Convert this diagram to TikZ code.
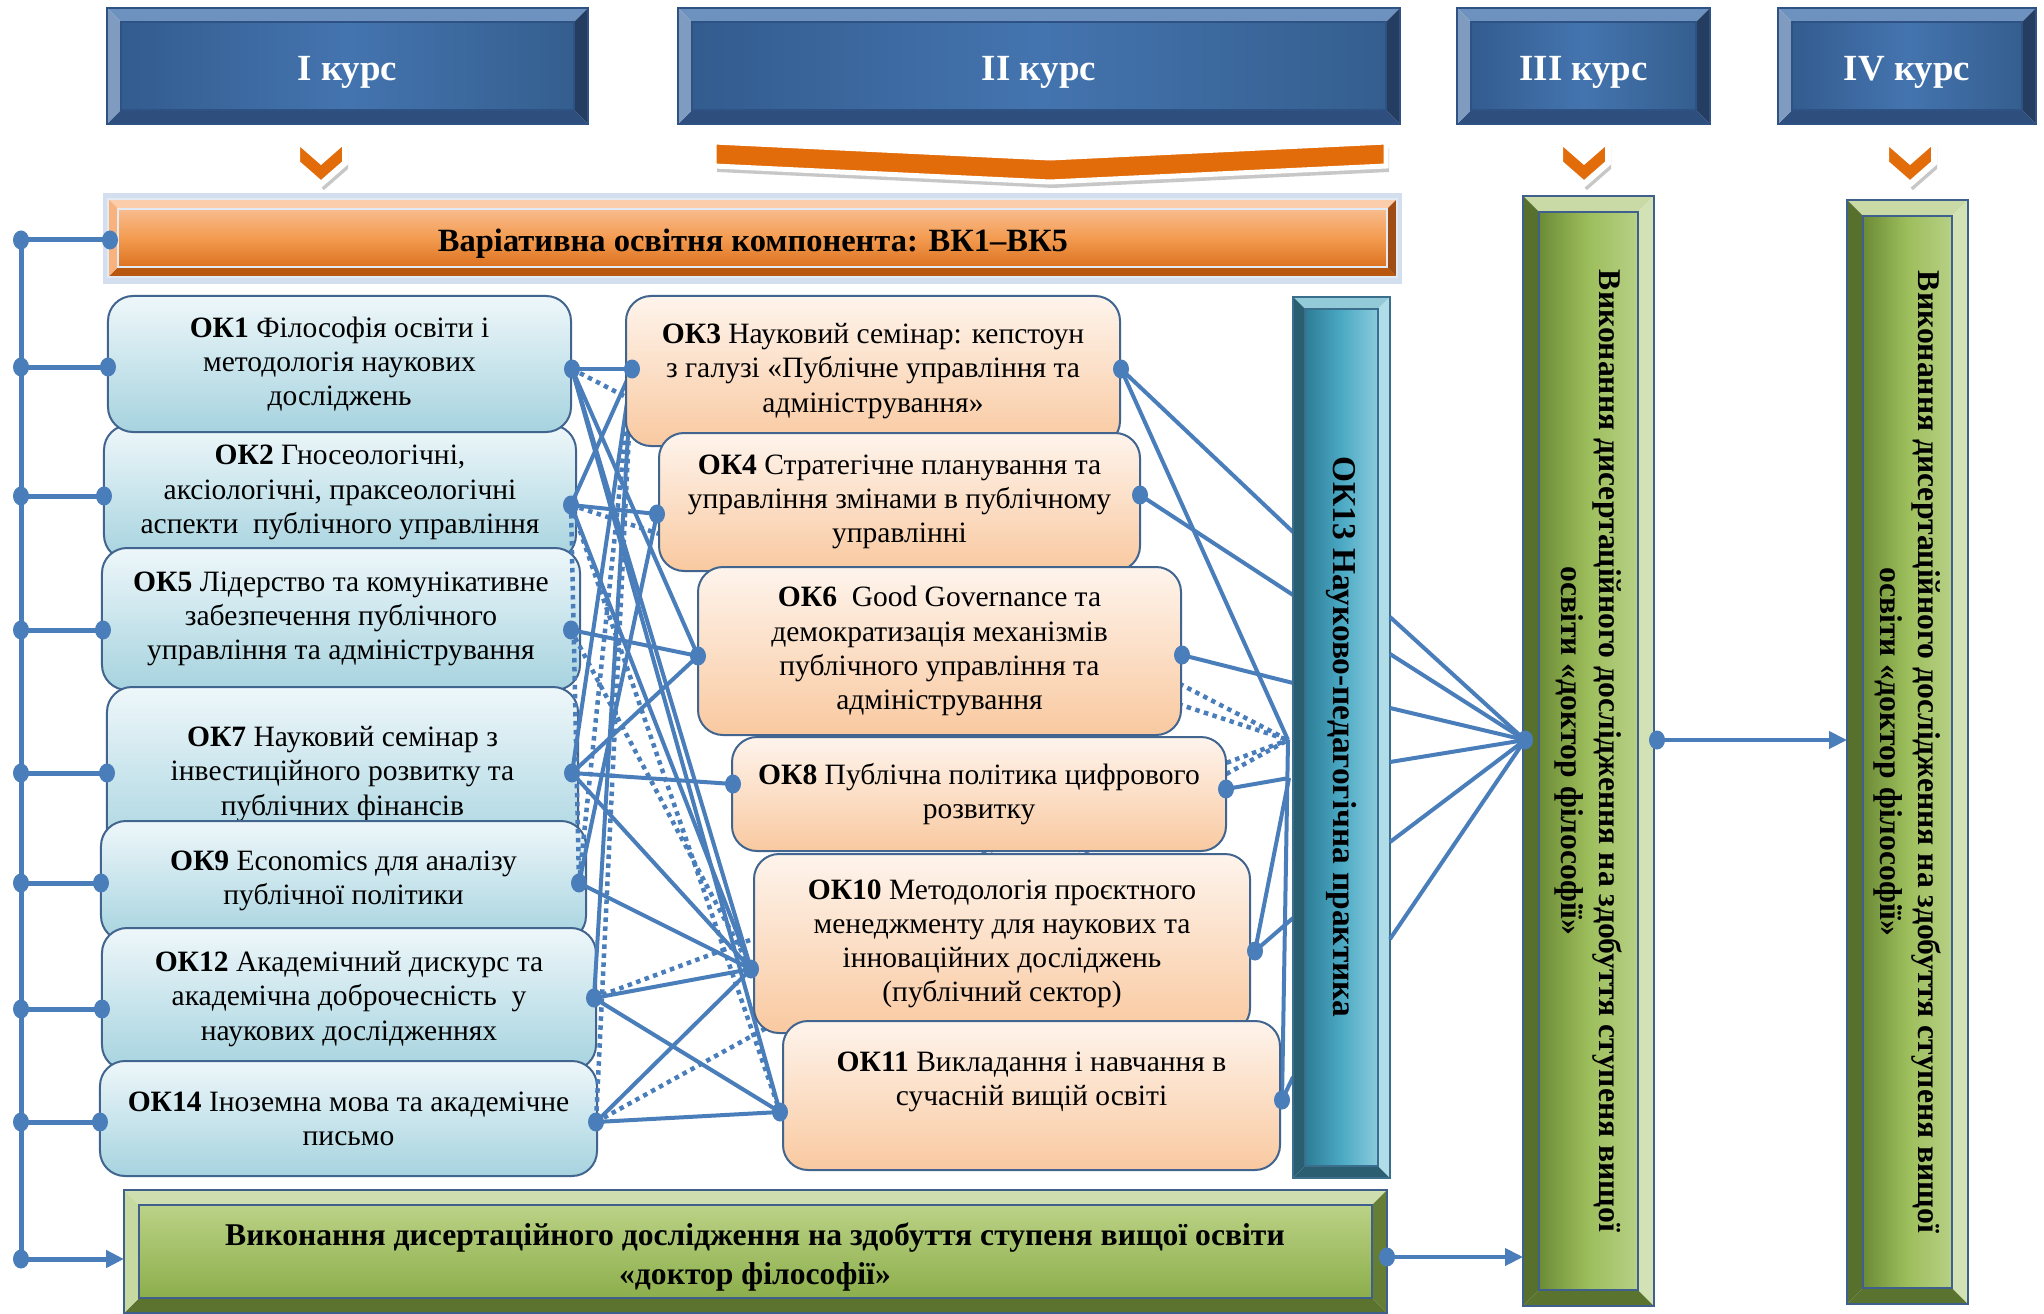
\documentclass[tikz,border=0pt]{standalone}
\usepackage{fontspec}
\setmainfont{Liberation Serif}
\usetikzlibrary{arrows.meta}

\definecolor{linkblue}{HTML}{4A7EBB}
\definecolor{boxline}{HTML}{41658F}
\definecolor{lbtop}{HTML}{EEF7FA}
\definecolor{lbbot}{HTML}{A6D3DF}
\definecolor{obtop}{HTML}{FEF4EC}
\definecolor{obbot}{HTML}{F9C9A0}
\definecolor{chev}{HTML}{E36C0A}
\definecolor{vkglow}{HTML}{D3DFEE}
% courses
\definecolor{hdtop}{HTML}{6E92BF}
\definecolor{hdbot}{HTML}{2E4F7E}
\definecolor{hdleft}{HTML}{7F9BBF}
\definecolor{hdright}{HTML}{243D60}
\definecolor{hdline}{HTML}{2D5283}
\definecolor{hdl}{HTML}{335C8F}
\definecolor{hdm}{HTML}{4474AF}
\definecolor{hdr}{HTML}{345E8E}
% variative component
\definecolor{vktop}{HTML}{FBCDAA}
\definecolor{vkbot}{HTML}{B8570F}
\definecolor{vkleft}{HTML}{F8B27D}
\definecolor{vkright}{HTML}{A04D15}
\definecolor{vkline}{HTML}{E2EAF4}
\definecolor{vkt}{HTML}{F9BC8E}
\definecolor{vkm}{HTML}{F39B50}
\definecolor{vkb}{HTML}{DC7220}
% practice bar
\definecolor{prtop}{HTML}{93CAD8}
\definecolor{prbot}{HTML}{2B5E70}
\definecolor{prleft}{HTML}{2A5F72}
\definecolor{prright}{HTML}{B1DDE8}
\definecolor{prline}{HTML}{3B6E8C}
\definecolor{prl}{HTML}{2D7C95}
\definecolor{prm}{HTML}{4BA9C4}
\definecolor{prr}{HTML}{8ACBDC}
% dissertation, vertical
\definecolor{gntop}{HTML}{C9DAA6}
\definecolor{gnbot}{HTML}{5A7430}
\definecolor{gnleft}{HTML}{57702D}
\definecolor{gnright}{HTML}{D2E2B4}
\definecolor{gnline}{HTML}{3F5F8C}
\definecolor{gnl}{HTML}{6C8B36}
\definecolor{gnm}{HTML}{9DBE5C}
\definecolor{gnr}{HTML}{B7D086}
% dissertation, horizontal
\definecolor{gbtop}{HTML}{CEDEAE}
\definecolor{gbbot}{HTML}{5B732F}
\definecolor{gbleft}{HTML}{C6D9A0}
\definecolor{gbright}{HTML}{667D36}
\definecolor{gbline}{HTML}{3F5F8C}
\definecolor{gbt}{HTML}{BBD286}
\definecolor{gbb}{HTML}{8CAE4B}

\def\bevel(#1,#2)(#3,#4)#5#6#7{%
	\fill[#6top] (#1,#2) -- (#3,#2) -- ({#3-#5},{#2+#5}) -- ({#1+#5},{#2+#5}) -- cycle;
	\fill[#6bot] (#1,#4) -- (#3,#4) -- ({#3-#5},{#4-#5}) -- ({#1+#5},{#4-#5}) -- cycle;
	\fill[#6left] (#1,#2) -- ({#1+#5},{#2+#5}) -- ({#1+#5},{#4-#5}) -- (#1,#4) -- cycle;
	\fill[#6right] (#3,#2) -- ({#3-#5},{#2+#5}) -- ({#3-#5},{#4-#5}) -- (#3,#4) -- cycle;
	\shade[#7] ({#1+#5},{#2+#5}) rectangle ({#3-#5},{#4-#5});
	\draw[#6line, line width=0.3mm] ({#1+#5},{#2+#5}) rectangle ({#3-#5},{#4-#5});
	\draw[#6line, line width=0.5mm] (#1,#2) rectangle (#3,#4);
}
\def\chevron(#1){%
	\fill[black!22] ({#1-21},146) -- ({#1+3},167) -- ({#1+27},146) -- ({#1+27},169) -- ({#1+3},190) -- ({#1-21},169) -- cycle;
	\filldraw[fill=chev, draw=white, line width=1.2mm] ({#1-24},140) -- (#1,161) -- ({#1+24},140) -- ({#1+24},163) -- (#1,184) -- ({#1-24},163) -- cycle;
}
\def\joint(#1){\fill[linkblue] (#1) ellipse [x radius=1.6mm, y radius=1.9mm];}

\tikzset{
	link/.style={line width=0.8mm, color=linkblue},
	linkd/.style={line width=0.9mm, color=linkblue, dash pattern=on 0.9mm off 0.9mm},
	bus/.style={line width=1mm, color=linkblue},
	arrowend/.style={-{Triangle[length=3.6mm, width=3.4mm]}},
	lbox/.style={draw=boxline, line width=0.4mm, rounded corners=5mm, top color=lbtop, bottom color=lbbot, inner sep=0pt, outer sep=0pt, align=center, font=\fontsize{16.8}{19.4}\selectfont, execute at begin node={\rule{0pt}{18pt}}},
	obox/.style={lbox, top color=obtop, bottom color=obbot},
	coursetxt/.style={text=white, font=\fontsize{21}{25}\selectfont\bfseries},
	headtxt/.style={align=center, font=\fontsize{18.5}{22.2}\selectfont\bfseries},
	vtext/.style={rotate=-90, align=center, font=\fontsize{18}{21.6}\selectfont\bfseries},
}

\begin{document}
\begin{tikzpicture}[x=0.2mm, y=-0.2mm]
	%%%%% START %%%%%
	\useasboundingbox (0,0) rectangle (2044,1314);
	\fill[white] (0,0) rectangle (2044,1314);
	
	% courses
	\bevel(107,8)(588,124){14}{hd}{left color=hdl, right color=hdr, middle color=hdm}
	\bevel(678,8)(1400,124){14}{hd}{left color=hdl, right color=hdr, middle color=hdm}
	\bevel(1457,8)(1710,124){14}{hd}{left color=hdl, right color=hdr, middle color=hdm}
	\bevel(1778,8)(2036,124){14}{hd}{left color=hdl, right color=hdr, middle color=hdm}
	\node[coursetxt] (c1) at (347.5,72) {I курс};
	\node[coursetxt] (c2) at (1039,72) {II курс};
	\node[coursetxt] (c3) at (1583.5,72) {III курс};
	\node[coursetxt] (c4) at (1907,72) {IV курс};
	
	\chevron(321)
	\chevron(1584)
	\chevron(1910)
	\fill[black!22] (717,148) -- (1053,164) -- (1389,148) -- (1389,172) -- (1053,188) -- (717,172) -- cycle;
	\filldraw[fill=chev, draw=white, line width=1mm] (714,142) -- (1050,158) -- (1386,142) -- (1386,166) -- (1050,182) -- (714,166) -- cycle;
	
	% variative component
	\fill[vkglow] (103,193) rectangle (1402,284);
	\bevel(108,199)(1397,277){10}{vk}{top color=vkt, bottom color=vkb, middle color=vkm}
	\node[headtxt] (vk) at (753,244) {Варіативна освітня компонента: ВК1–ВК5};
	
	% first year
	\node[lbox, minimum width=94.4mm, minimum height=27mm] (ok2) at (340,492.5) {\textbf{ОК2} Гносеологічні,\\аксіологічні, праксеологічні\\аспекти~ публічного управління};
	\node[lbox, minimum width=92.6mm, minimum height=27.2mm] (ok1) at (339.5,364) {\textbf{ОК1} Філософія освіти і\\методологія наукових\\досліджень};
	\node[lbox, minimum width=95.6mm, minimum height=28.4mm] (ok5) at (341,619) {\textbf{ОК5} Лідерство та комунікативне\\забезпечення публічного\\управління та адміністрування};
	\node[lbox, minimum width=94.2mm, minimum height=34.8mm] (ok7) at (342.5,774) {\textbf{ОК7} Науковий семінар з\\інвестиційного розвитку та\\публічних фінансів};
	\node[lbox, minimum width=97mm, minimum height=24mm] (ok9) at (343.5,881) {\textbf{ОК9} Economics для аналізу\\публічної політики};
	\node[lbox, minimum width=98.8mm, minimum height=28.4mm] (ok12) at (349,999) {\textbf{ОК12} Академічний дискурс та\\академічна доброчесність~ у\\наукових дослідженнях};
	\node[lbox, minimum width=99.4mm, minimum height=23mm] (ok14) at (348.5,1118.5) {\textbf{ОК14} Іноземна мова та академічне\\письмо};
	
	\coordinate (bus0) at (21,240);
	\coordinate (bus1) at (21,367);
	\coordinate (bus2) at (21,496);
	\coordinate (bus3) at (21,630);
	\coordinate (bus4) at (21,773);
	\coordinate (bus5) at (21,883);
	\coordinate (bus6) at (21,1009);
	\coordinate (bus7) at (21,1122);
	\coordinate (bus8) at (21,1259);
	\coordinate (vkw) at (110,240);
	\coordinate (ok1w) at (108,367);
	\coordinate (ok2w) at (104,496);
	\coordinate (ok5w) at (103,630);
	\coordinate (ok7w) at (107,773);
	\coordinate (ok9w) at (101,883);
	\coordinate (ok12w) at (102,1009);
	\coordinate (ok14w) at (100,1122);
	\coordinate (dissw) at (124,1259);
	
	\coordinate (ok1e) at (572,369);
	\coordinate (ok2e) at (571,505);
	\coordinate (ok5e) at (571,630);
	\coordinate (ok7e) at (572,773);
	\coordinate (ok9e) at (579,883);
	\coordinate (ok12e) at (594,998);
	\coordinate (ok14e) at (596,1122);
	\coordinate (ok3w) at (632,369);
	\coordinate (ok4w) at (657,514);
	\coordinate (ok6w) at (698,656);
	\coordinate (ok8w) at (733,784);
	\coordinate (ok10w) at (751,969);
	\coordinate (ok11w) at (780,1112);
	\coordinate (ok3e) at (1121,369);
	\coordinate (ok4e) at (1140,495);
	\coordinate (ok6e) at (1182,655);
	\coordinate (ok8e) at (1226,789);
	\coordinate (ok10e) at (1255,951);
	\coordinate (ok11e) at (1282,1100);
	
	\coordinate (pr1) at (1293,532);
	\coordinate (pr2) at (1293,595);
	\coordinate (pr3) at (1293,683);
	\coordinate (pr4) at (1288,740);
	\coordinate (pr5) at (1289,778);
	\coordinate (pr6) at (1293,918);
	\coordinate (pr7) at (1293,1077);
	\coordinate (pe1) at (1390,617);
	\coordinate (pe2) at (1390,654);
	\coordinate (pe3) at (1390,708);
	\coordinate (pe4) at (1390,762);
	\coordinate (pe5) at (1390,842);
	\coordinate (pe6) at (1390,939);
	\coordinate (y3w) at (1525,740);
	\coordinate (y3e) at (1657,740);
	\coordinate (y4w) at (1847,740);
	\coordinate (y3s) at (1523,1257);
	\coordinate (disse) at (1387,1257);
	
	% links between first and second year
	\draw[link] (ok1e) -- (ok3w);
	\draw[link] (ok1e) -- (ok6w);
	\draw[link] (ok1e) -- (ok10w);
	\draw[link] (ok1e) -- (ok11w);
	\draw[link] (ok2e) -- (ok3w);
	\draw[link] (ok2e) -- (ok4w);
	\draw[link] (ok2e) -- (ok10w);
	\draw[link] (ok3w) -- (ok7e);
	\draw[link] (ok3w) -- (ok12e);
	\draw[link] (ok4w) -- (ok9e);
	\draw[link] (ok5e) -- (ok6w);
	\draw[link] (ok6w) -- (ok7e);
	\draw[link] (ok7e) -- (ok8w);
	\draw[link] (ok7e) -- (ok10w);
	\draw[link] (ok9e) -- (ok10w);
	\draw[link] (ok12e) -- (ok10w);
	\draw[link] (ok12e) -- (ok11w);
	\draw[link] (ok14e) -- (ok10w);
	\draw[link] (ok14e) -- (ok11w);
	
	\draw[linkd] (ok3w) -- (ok14e);
	\draw[linkd] (ok3w) -- (ok9e);
	\draw[linkd] (ok2e) -- (ok9e);
	\draw[linkd] (ok2e) -- (ok11w);
	\draw[linkd] (ok5e) -- (ok10w);
	\draw[linkd] (ok1e) -- (pr4);
	\draw[linkd] (ok2e) -- (pr4);
	\draw[linkd] (ok12e) -- (pr4);
	\draw[linkd] (ok14e) -- (pr4);
	
	% links to the practice
	\draw[link] (ok3e) -- (pr1);
	\draw[link] (ok3e) -- (pr4);
	\draw[link] (ok4e) -- (pr2);
	\draw[link] (ok6e) -- (pr3);
	\draw[link] (ok8e) -- (pr5);
	\draw[link] (ok10e) -- (pr5);
	\draw[link] (ok10e) -- (pr6);
	\draw[link] (ok11e) -- (pr4);
	\draw[link] (ok11e) -- (pr7);
	
	% second year
	\node[obox, minimum width=98.8mm, minimum height=30mm] (ok3) at (873,371) {\textbf{ОК3} Науковий семінар: кепстоун\\з галузі «Публічне управління та\\адміністрування»};
	\node[obox, minimum width=96.2mm, minimum height=27.6mm] (ok4) at (899.5,502) {\textbf{ОК4} Стратегічне планування та\\управління змінами в публічному\\управлінні};
	\node[obox, minimum width=96.6mm, minimum height=33.6mm] (ok6) at (939.5,651) {\textbf{ОК6}~ Good Governance та\\демократизація механізмів\\публічного управління та\\адміністрування};
	\node[obox, minimum width=98.8mm, minimum height=22.8mm, execute at begin node={}] (ok8) at (979,794) {\textbf{ОК8} Публічна політика цифрового\\розвитку};
	\node[obox, minimum width=99.2mm, minimum height=35.8mm] (ok10) at (1002,943.5) {\textbf{ОК10} Методологія проєктного\\менеджменту для наукових та\\інноваційних досліджень\\(публічний сектор)};
	\node[obox, minimum width=99.4mm, minimum height=29.8mm] (ok11) at (1031.5,1095.5) {\textbf{ОК11} Викладання і навчання в\\сучасній вищій освіті\\\mbox{}};
	
	% practice
	\bevel(1293,297)(1390,1178){12}{pr}{left color=prl, right color=prr, middle color=prm}
	\node[vtext, font=\fontsize{19}{23}\selectfont\bfseries] (ok13) at (1341,737) {ОК13 Науково-педагогічна практика};
	
	% dissertation
	\bevel(1523,196)(1654,1306){16}{gn}{left color=gnl, right color=gnr, middle color=gnm}
	\bevel(1847,200)(1968,1304){16}{gn}{left color=gnl, right color=gnr, middle color=gnm}
	\node[vtext] (y3) at (1588,751) {Виконання дисертаційного дослідження на здобуття ступеня вищої\\освіти «доктор філософії»};
	\node[vtext] (y4) at (1907.5,752) {Виконання дисертаційного дослідження на здобуття ступеня вищої\\освіти «доктор філософії»};
	\bevel(124,1190)(1387,1313){15}{gb}{top color=gbt, bottom color=gbb}
	\node[headtxt, font=\fontsize{18}{22.2}\selectfont\bfseries] (diss) at (755,1257) {Виконання дисертаційного дослідження на здобуття ступеня вищої освіти\\«доктор філософії»};
	
	\draw[link] (pe1) -- (y3w);
	\draw[link] (pe2) -- (y3w);
	\draw[link] (pe3) -- (y3w);
	\draw[link] (pe4) -- (y3w);
	\draw[link] (pe5) -- (y3w);
	\draw[link] (pe6) -- (y3w);
	\draw[link, arrowend] (y3e) -- (y4w);
	\draw[link, arrowend] (disse) -- (y3s);
	
	% left bus
	\draw[bus] (bus0) -- (bus8);
	\draw[bus] (bus0) -- (vkw);
	\draw[bus] (bus1) -- (ok1w);
	\draw[bus] (bus2) -- (ok2w);
	\draw[bus] (bus3) -- (ok5w);
	\draw[bus] (bus4) -- (ok7w);
	\draw[bus] (bus5) -- (ok9w);
	\draw[bus] (bus6) -- (ok12w);
	\draw[bus] (bus7) -- (ok14w);
	\draw[bus, arrowend] (bus8) -- (dissw);
	
	\joint(bus0) \joint(bus1) \joint(bus2) \joint(bus3) \joint(bus4)
	\joint(bus5) \joint(bus6) \joint(bus7) \joint(bus8)
	\joint(vkw) \joint(ok1w) \joint(ok2w) \joint(ok5w) \joint(ok7w)
	\joint(ok9w) \joint(ok12w) \joint(ok14w)
	\joint(ok1e) \joint(ok2e) \joint(ok5e) \joint(ok7e) \joint(ok9e)
	\joint(ok12e) \joint(ok14e)
	\joint(ok3w) \joint(ok4w) \joint(ok6w) \joint(ok8w) \joint(ok10w) \joint(ok11w)
	\joint(ok3e) \joint(ok4e) \joint(ok6e) \joint(ok8e) \joint(ok10e) \joint(ok11e)
	\joint(y3w) \joint(y3e) \joint(disse)
	
	%%%%% END %%%%%
\end{tikzpicture}
\end{document}
